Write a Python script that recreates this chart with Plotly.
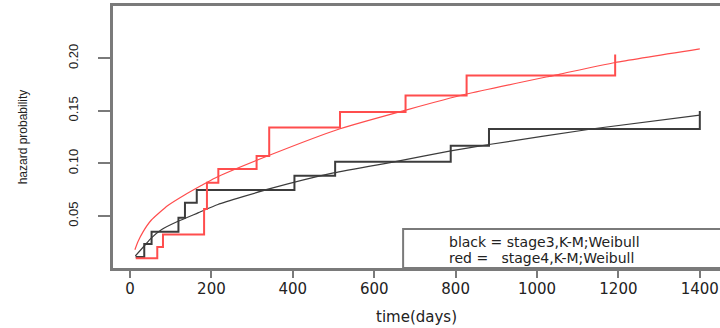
import plotly.graph_objects as go

# ---- data ----
# stage3 (black) Kaplan-Meier cumulative hazard steps
km3_time = [14, 35, 53, 119, 135, 164, 404, 504, 788, 882, 1400]
km3_haz = [0.011, 0.0234, 0.0351, 0.0484, 0.0626, 0.0747, 0.0883, 0.1016, 0.1168, 0.1327, 0.1498]

# stage4 (red) Kaplan-Meier cumulative hazard steps
km4_time = [14, 67, 81, 182, 189, 217, 311, 342, 516, 677, 827, 1192]
km4_haz = [0.0098, 0.0205, 0.0325, 0.0566, 0.0817, 0.0947, 0.107, 0.1343, 0.1489, 0.1647, 0.1836, 0.2037]

# Weibull fitted curves
wb3_time = [13, 36, 52, 77, 118, 167, 216, 344, 500, 655, 788, 882, 1138, 1400]
wb3_haz = [0.012, 0.022, 0.029, 0.037, 0.045, 0.053, 0.061, 0.076, 0.091, 0.102, 0.112, 0.118, 0.133, 0.146]

wb4_time = [12, 20, 32, 52, 93, 134, 175, 208, 344, 516, 680, 827, 1057, 1192, 1400]
wb4_haz = [0.018, 0.026, 0.035, 0.046, 0.060, 0.070, 0.079, 0.086, 0.108, 0.133, 0.151, 0.166, 0.185, 0.196, 0.209]

x_ticks = [0, 200, 400, 600, 800, 1000, 1200, 1400]
y_ticks = [0.05, 0.10, 0.15, 0.20]
y_tick_text = ["0.05", "0.10", "0.15", "0.20"]

legend_lines = ["black = stage3,K-M;Weibull", "red =\u00a0\u00a0 stage4,K-M;Weibull"]

BLACK = "#3c3c3c"
RED = "#ff4d4d"
FRAME = "#7a7a7a"

fig = go.Figure()
fig.add_trace(go.Scatter(x=km3_time, y=km3_haz, mode="lines", line=dict(color=BLACK, width=2, shape="hv")))
fig.add_trace(go.Scatter(x=wb3_time, y=wb3_haz, mode="lines", line=dict(color=BLACK, width=1.2, shape="spline", smoothing=0.5)))
fig.add_trace(go.Scatter(x=km4_time, y=km4_haz, mode="lines", line=dict(color=RED, width=2, shape="hv")))
fig.add_trace(go.Scatter(x=wb4_time, y=wb4_haz, mode="lines", line=dict(color=RED, width=1.2, shape="spline", smoothing=0.5)))

# legend box (bottom right, like R's legend)
fig.add_shape(type="rect", xref="x", yref="y", x0=671, x1=1460, y0=0.0006, y1=0.0376,
              line=dict(color=FRAME, width=2), fillcolor="white", layer="above")
for i, txt in enumerate(legend_lines):
    fig.add_annotation(x=778, y=[0.0255, 0.0105][i], xref="x", yref="y", text=txt, showarrow=False,
                       xanchor="left", yanchor="middle",
                       font=dict(family="DejaVu Sans", size=14, color="#222"))

fig.update_layout(
    width=720, height=328,
    margin=dict(l=113, r=0, t=6, b=60),
    paper_bgcolor="white", plot_bgcolor="white",
    showlegend=False,
    xaxis=dict(range=[-41.8, 1449.6], tickvals=x_ticks, ticks="outside", ticklen=7, tickwidth=1.5,
               tickcolor=FRAME, showgrid=False, zeroline=False, showline=True, mirror=True,
               linecolor=FRAME, linewidth=2.5, ticklabelstandoff=-2,
               tickfont=dict(family="DejaVu Sans", size=15, color="#222"),
               title=dict(text="time(days)", standoff=15,
                          font=dict(family="DejaVu Sans", size=15, color="#222"))),
    yaxis=dict(range=[0.0006, 0.2497], tickvals=y_ticks, ticktext=y_tick_text, ticks="outside",
               ticklen=12, tickwidth=1.5, tickcolor=FRAME, showgrid=False, zeroline=False,
               showline=True, mirror=False, linecolor=FRAME, linewidth=2.5, tickangle=-90,
               ticklabelstandoff=15,
               tickfont=dict(family="Liberation Sans", size=13, color="#222"),
               title=dict(text="hazard probability", standoff=36,
                          font=dict(family="Liberation Sans", size=12, color="#222"))),
)

fig.write_html("out.html", config={"displayModeBar": False},
               post_script="document.body.style.margin='0';")
